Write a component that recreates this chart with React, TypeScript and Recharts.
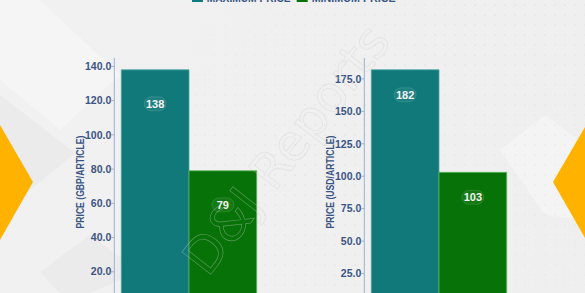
import { Bar, BarChart, LabelList, XAxis, YAxis } from 'recharts';

const seriesNames = ['MAXIMUM PRICE', 'MINIMUM PRICE'];
const seriesColors = ['#11797a', '#077207'];
const axisTitles = ['PRICE (GBP/ARTICLE)', 'PRICE (USD/ARTICLE)'];
const maxPrices = [138, 182];
const minPrices = [79, 103];
const gbpTicks = [0, 20, 40, 60, 80, 100, 120, 140];
const usdTicks = [0, 25, 50, 75, 100, 125, 150, 175];

const FONT = "'Liberation Sans Narrow', 'Liberation Sans', Arial, sans-serif";
const TICK_COLOR = '#3a5584';

type PanelProps = {
    index: number;
    ticks: number[];
    left: number;
    labelOffset: number;
};

function ValueBadge(props: any, offset: number) {
    const { x, y, width, value } = props;
    const cx = x + width / 2;
    const cy = y + offset;
    return (
        <g>
            <rect
                x={cx - 11}
                y={cy - 7}
                width={22}
                height={14}
                rx={7}
                fill="rgba(255,255,255,0.06)"
                stroke="rgba(255,255,255,0.15)"
                strokeWidth={0.8}
            />
            <text
                x={cx}
                y={cy}
                dy="0.35em"
                textAnchor="middle"
                fill="#f4f4f4"
                fontSize={11}
                fontWeight={700}
                fontFamily={FONT}
            >
                {value}
            </text>
        </g>
    );
}

function AxisTitle(props: any, text: string) {
    const { viewBox } = props;
    const x = viewBox.x + viewBox.width - 34;
    const y = viewBox.y + viewBox.height / 2;
    return (
        <text
            x={x - 46.5}
            y={y}
            transform={`rotate(-90, ${x}, ${y})`}
            dy="0.35em"
            textLength={93}
            lengthAdjust="spacingAndGlyphs"
            fill={TICK_COLOR}
            fontSize={10.5}
            fontWeight={700}
            fontFamily={FONT}
        >
            {text}
        </text>
    );
}

function PricePanel({ index, ticks, left, labelOffset }: PanelProps) {
    const data = [{ name: 'price', max: maxPrices[index], min: minPrices[index] }];
    const top = maxPrices[index] * 1.05;
    return (
        <div style={{ position: 'absolute', left, top: 0 }}>
            <BarChart
                width={270}
                height={306}
                data={data}
                margin={{ top: 58, right: 7, left: 0, bottom: 0 }}
                barGap={0}
                barSize={67.7}
            >
                <XAxis dataKey="name" hide />
                <YAxis
                    width={114.3}
                    domain={[0, top]}
                    ticks={ticks}
                    allowDataOverflow
                    tickFormatter={(v) => v.toFixed(1)}
                    tick={{ fill: TICK_COLOR, fontSize: 10.5, fontWeight: 700, fontFamily: FONT }}
                    tickSize={3}
                    tickMargin={0}
                    tickLine={{ stroke: '#9fb0cf' }}
                    axisLine={{ stroke: '#9fb0cf' }}
                    label={(p: any) => AxisTitle(p, axisTitles[index])}
                />
                <Bar
                    dataKey="max"
                    name={seriesNames[0]}
                    fill={seriesColors[0]}
                    stroke="#4fa5a5"
                    strokeWidth={0.8}
                    isAnimationActive={false}
                >
                    <LabelList dataKey="max" content={(p: any) => ValueBadge(p, labelOffset)} />
                </Bar>
                <Bar
                    dataKey="min"
                    name={seriesNames[1]}
                    fill={seriesColors[1]}
                    stroke="#5cb85c"
                    strokeWidth={0.8}
                    isAnimationActive={false}
                >
                    <LabelList dataKey="min" content={(p: any) => ValueBadge(p, labelOffset)} />
                </Bar>
            </BarChart>
        </div>
    );
}

function Backdrop() {
    return (
        <svg
            width={585}
            height={293}
            style={{ position: 'absolute', left: 0, top: 0 }}
        >
            <defs>
                <linearGradient id="bg" x1="0" y1="0" x2="1" y2="0">
                    <stop offset="0%" stopColor="#f1f1f1" />
                    <stop offset="100%" stopColor="#efefef" />
                </linearGradient>
                <pattern id="dots" width="10" height="10" patternUnits="userSpaceOnUse">
                    <circle cx="5" cy="5" r="0.8" fill="#dedede" />
                </pattern>
                <linearGradient id="fadeMask" x1="0" y1="0" x2="1" y2="1">
                    <stop offset="0%" stopColor="#fff" stopOpacity={0} />
                    <stop offset="40%" stopColor="#fff" stopOpacity={1} />
                    <stop offset="100%" stopColor="#fff" stopOpacity={0.3} />
                </linearGradient>
                <mask id="dotMask">
                    <rect x="180" y="0" width="405" height="293" fill="url(#fadeMask)" />
                </mask>
            </defs>
            <rect width={585} height={293} fill="url(#bg)" />
            <polygon points="0,0 40,0 120,75 60,130 0,80" fill="#f5f5f5" />
            <polygon points="0,95 75,153 0,215" fill="#ebebeb" />
            <polygon points="40,272 90,235 140,272 90,293 60,293" fill="#ebebeb" />
            <polygon points="500,150 545,115 585,145 585,220 545,215" fill="#f4f4f4" />
            <rect x="180" y="0" width="405" height="293" fill="url(#dots)" mask="url(#dotMask)" />
            <polygon points="0,125 33,182 0,240" fill="#ffb300" />
            <polygon points="585,127 553,182 585,238" fill="#ffb300" />
        </svg>
    );
}

function Watermark() {
    return (
        <svg
            width={585}
            height={293}
            style={{ position: 'absolute', left: 0, top: 0, pointerEvents: 'none' }}
        >
            <text
                x={300}
                y={160}
                transform="rotate(-52, 300, 160)"
                textAnchor="middle"
                fontSize={50}
                fontFamily="'DejaVu Sans', sans-serif"
                fill="none"
                stroke="rgba(205,205,205,0.4)"
                strokeWidth={0.7}
            >
                D&amp;J Reports
            </text>
        </svg>
    );
}

function Legend() {
    const items = [
        { square: 192, text: 206.7 },
        { square: 296.7, text: 311.7 },
    ];
    return (
        <svg
            width={585}
            height={20}
            style={{ position: 'absolute', left: 0, top: 0 }}
        >
            {seriesNames.map((s, i) => (
                <g key={s}>
                    <rect x={items[i].square} y={-8} width={11} height={10} fill={seriesColors[i]} />
                    <text
                        x={items[i].text}
                        y={2}
                        textLength={84}
                        lengthAdjust="spacingAndGlyphs"
                        fill={TICK_COLOR}
                        fontSize={11}
                        fontWeight={700}
                        fontFamily={FONT}
                    >
                        {s}
                    </text>
                </g>
            ))}
        </svg>
    );
}

export default function App() {
    return (
        <div
            style={{
                position: 'fixed',
                left: 0,
                top: 0,
                width: 585,
                height: 293,
                overflow: 'hidden',
            }}
        >
            <Backdrop />
            <Legend />
            <PricePanel index={0} ticks={gbpTicks} left={0} labelOffset={34} />
            <PricePanel index={1} ticks={usdTicks} left={250} labelOffset={25} />
            <Watermark />
        </div>
    );
}
